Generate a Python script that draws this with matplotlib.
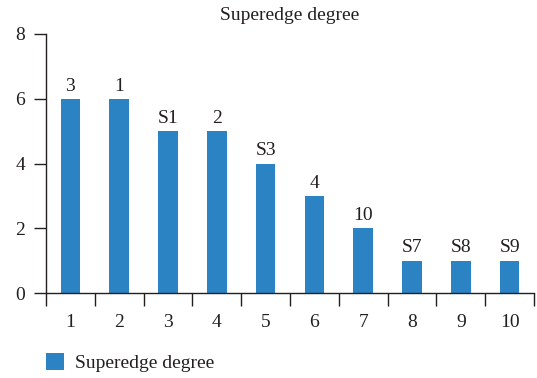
import matplotlib
matplotlib.use("Agg")
import matplotlib.pyplot as plt
import numpy as np

categories = ["1", "2", "3", "4", "5", "6", "7", "8", "9", "10"]
values = [6, 6, 5, 5, 4, 3, 2, 1, 1, 1]
bar_labels = ["3", "1", "S1", "2", "S3", "4", "10", "S7", "S8", "S9"]
series_name = "Superedge degree"
yticks = [0, 2, 4, 6, 8]

plt.rcParams['font.family'] = ['Liberation Serif', 'DejaVu Serif']

fig = plt.figure(figsize=(5.37, 3.78), dpi=100)
ax = fig.add_axes([46/537, (378-293)/378, 488/537, 259/378])

color = "#2b83c4"
tc = "#231f20"
fs = 14
x = np.arange(len(categories))
ax.bar(x, values, width=0.4, color=color, label=series_name)
for xi, v, lab in zip(x, values, bar_labels):
    ax.annotate(lab, (xi, v), xytext=(0, 3), textcoords="offset points",
                ha="center", va="bottom", fontsize=fs, color=tc)

ax.set_xlim(-0.5, len(categories) - 0.5)
ax.set_ylim(0, 8)
ax.set_yticks(yticks)
ax.set_xticks(x)
ax.set_xticklabels(categories)
ax.set_xticks(np.arange(-0.5, len(categories)), minor=True)
ax.tick_params(axis='x', which='major', length=0, pad=15, labelsize=fs, labelcolor=tc)
ax.tick_params(axis='x', which='minor', length=9, width=1, direction='out', color=tc)
ax.tick_params(axis='y', length=9, width=1, direction='out', pad=6, labelsize=fs,
               labelcolor=tc, color=tc)
for s in ["top", "right"]:
    ax.spines[s].set_visible(False)
for s in ["left", "bottom"]:
    ax.spines[s].set_color(tc)
    ax.spines[s].set_linewidth(1)

fig.text(290/537, 1 - 15/378, series_name, ha="center", va="center", fontsize=fs, color=tc)

leg = ax.legend(loc="center left", bbox_to_anchor=(46/537, 1 - 362.5/378), bbox_transform=fig.transFigure,
                frameon=False, fontsize=fs, handlelength=0.95, handleheight=1.0, handletextpad=0.55,
                borderpad=0, borderaxespad=0)
for t in leg.get_texts():
    t.set_color(tc)

fig.savefig("out.png", dpi=100)
